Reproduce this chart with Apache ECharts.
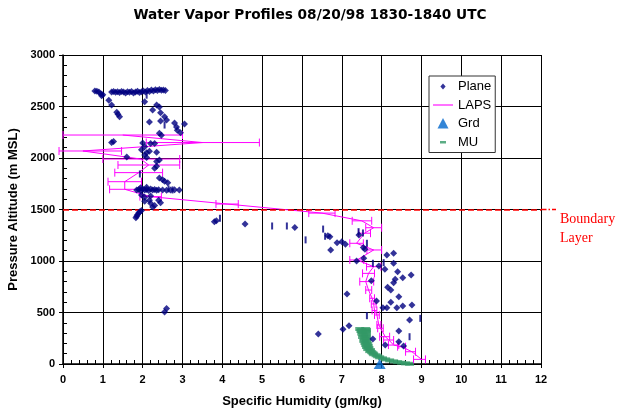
<!DOCTYPE html>
<html><head><meta charset="utf-8">
<script src="https://cdn.jsdelivr.net/npm/echarts@6/dist/echarts.min.js"></script>
<style>html,body{margin:0;padding:0;background:#fff}#c{width:620px;height:410px}</style>
</head><body><div id="c"></div>
<script>
// ---- data ----
const xTickLabels = ['0','1','2','3','4','5','6','7','8','9','10','11','12'];
const yTickLabels = ['0','500','1000','1500','2000','2500','3000'];
const boundaryLayer = 1500;

const planeDiamonds = [
 [0.80,2650],[0.85,2648],[0.90,2640],[0.95,2625],[1.00,2615],[0.97,2605],[1.15,2560],[1.22,2515],[1.35,2445],[1.38,2425],[1.42,2400],
 [1.22,2640],[1.27,2645],[1.32,2638],[1.37,2642],[1.42,2636],[1.47,2645],[1.52,2640],[1.57,2632],[1.62,2642],[1.67,2638],
 [1.72,2645],[1.77,2630],[1.82,2640],[1.87,2648],[1.92,2636],[1.97,2642],[2.02,2650],[2.07,2640],[2.12,2655],[2.17,2645],
 [2.22,2660],[2.27,2650],[2.32,2662],[2.37,2655],[2.42,2665],[2.47,2658],[2.52,2660],[2.57,2655],[2.05,2547],
 [2.35,2515],[2.42,2495],[2.25,2465],[2.45,2440],[2.55,2400],[2.6,2370],[2.8,2340],[2.17,2350],[2.45,2360],[2.85,2300],
 [3.05,2330],[2.87,2270],[2.95,2245],[2.42,2240],[2.47,2220],[1.22,2150],[1.27,2160],[2.0,2145],[2.05,2110],[2.2,2140],
 [2.3,2140],[1.97,2080],[2.1,2050],[2.17,2065],[2.35,2055],[1.6,2010],[2.05,2030],[2.1,2005],[2.35,1965],[2.42,1980],
 [2.35,1920],[2.3,1900],[2.42,1805],[2.5,1790],[2.55,1775],[2.63,1760],
 [1.85,1690],[1.9,1695],[1.95,1685],[2.0,1700],[2.05,1690],[2.1,1695],[2.15,1685],[2.2,1700],[2.25,1690],[2.3,1695],
 [2.35,1688],[2.4,1692],[2.5,1690],[2.6,1688],[2.7,1690],[2.8,1692],[2.92,1690],[1.95,1710],[2.1,1715],
 [1.97,1640],[2.05,1620],[2.2,1630],[2.17,1590],[2.2,1560],[2.4,1590],[2.45,1565],[2.3,1540],[2.25,1525],[2.05,1580],
 [1.83,1420],[1.85,1435],[1.87,1450],[1.9,1465],[1.93,1478],[1.97,1490],
 [2.55,505],[2.6,540],
 [3.8,1380],[3.85,1390],[4.57,1360],[5.82,1325],[6.65,1245],[6.7,1235],[6.72,1107],[6.88,1178],[7.0,1188],[7.09,1162],
 [7.43,1252],[7.54,1130],[7.58,1113],[7.37,1000],[7.55,1026],[8.13,1058],[8.3,1075],[7.93,951],[8.3,978],[8.08,919],
 [8.4,896],[8.74,864],[8.53,838],[7.74,809],[8.34,822],[8.3,789],[8.15,745],[8.23,718],[8.43,654],[7.13,680],
 [7.87,612],[8.23,599],[8.03,547],[8.13,547],[8.38,547],[8.53,563],[8.76,573],[8.7,427],[7.18,372],[7.03,337],
 [6.41,291],[8.43,320],[7.78,243],[8.43,217],[8.09,184],[8.55,175]
];
const planeBars = [
 [2.1,2610],[2.55,2320],[1.93,1845],[2.65,1700],[2.75,1690],
 [3.94,1415],[5.25,1340],[5.62,1340],[6.09,1205],[6.53,1310],[6.58,1240],[7.42,1285],[7.53,1272],[7.63,1172],
 [7.78,978],[8.05,984],[7.63,469],[8.97,443],[8.7,265]
];

const lapsY    = [2223,2150,2068,1990,1932,1858,1770,1696,1625,1553,1465,1390,1323,1270,1172,1107,1010,945,880,800,718,638,583,520,476,379,347,265,233,184,168,119,45];
const lapsX    = [1.5,3.5,0.5,1.95,2.15,1.9,1.55,1.55,2.2,4.12,6.5,7.5,7.8,7.57,7.37,7.8,7.38,7.8,7.67,7.6,7.67,7.76,7.8,7.82,7.88,7.93,7.97,8.09,8.18,8.3,8.5,8.76,9.0];
const lapsLow  = [0.0,2.09,-0.1,1.0,1.38,1.3,1.13,1.17,1.93,3.84,6.17,7.26,7.6,7.42,7.2,7.63,7.2,7.62,7.52,7.45,7.6,7.7,7.74,7.76,7.82,7.88,7.9,7.95,8.05,8.17,8.4,8.6,8.8];
const lapsHigh = [3.0,4.93,1.47,2.93,2.93,2.5,1.97,1.93,2.47,4.4,6.83,7.75,8.0,7.72,7.54,8.0,7.55,7.98,7.82,7.8,7.75,7.82,7.86,7.88,7.94,7.98,8.04,8.2,8.3,8.43,8.6,8.85,9.1];

const grdPoints = [[7.95,0]];
const muPoints = [
 [7.45,340],[7.6,340],[7.5,330],[7.62,330],[7.48,320],[7.6,320],[7.52,310],[7.62,305],[7.5,295],[7.6,290],
 [7.55,280],[7.62,270],[7.52,262],[7.6,255],[7.57,245],[7.63,235],[7.55,225],[7.62,215],[7.58,205],[7.65,195],
 [7.6,185],[7.66,175],[7.62,165],[7.68,155],[7.65,145],[7.72,135],[7.7,125],[7.75,115],[7.78,105],[7.8,95],
 [7.86,85],[7.9,75],[7.95,65],[8.02,55],[8.1,45],[8.2,35],[8.3,26],[8.4,18],[8.5,12],[8.6,6],[8.7,2]
];

// ---- chart ----
const lapsLine = lapsY.map((y,i)=>[lapsX[i], y]);
const lapsBars = lapsY.map((y,i)=>[lapsLow[i], lapsHigh[i], y]);
const MAG = '#FF00FF';
const chart = echarts.init(document.getElementById('c'), null, {renderer:'canvas'});
const axisLbl = {fontFamily:'Liberation Sans, Arial, sans-serif', fontWeight:'bold', fontSize:11, color:'#000'};
const nameStyle = {fontFamily:'Liberation Sans, Arial, sans-serif', fontWeight:'bold', fontSize:13, color:'#000'};
chart.setOption({
  animation:false,
  backgroundColor:'#fff',
  title:{text:'Water Vapor Profiles 08/20/98 1830-1840 UTC', left:'center', top:3,
    textStyle:{fontFamily:'DejaVu Sans, sans-serif', fontWeight:'bold', fontSize:13.7, color:'#000'}},
  grid:{left:63, top:55, width:478, height:309, show:false, outerBoundsMode:'none', containLabel:false},
  legend:{
    left:429, top:76, orient:'vertical', itemWidth:20, itemHeight:12, itemGap:5.5,
    padding:[4,4,4,4], borderColor:'#333', borderWidth:1, backgroundColor:'#fff',
    textStyle:{fontFamily:'Liberation Sans, Arial, sans-serif', fontSize:13, color:'#000'},
    selectedMode:false,
    data:[
      {name:'Plane', icon:'path://M0 0M20 12M10 3L12.6 6L10 9L7.4 6Z'},
      {name:'LAPS', icon:'path://M0 5.5L20 5.5L20 6.6L0 6.6Z'},
      {name:'Grd', icon:'path://M0 0M20 12M10 0.5L15.5 11L4.5 11Z'},
      {name:'MU', icon:'path://M0 0M20 12M7 5L13 5L13 7.5L7 7.5Z'}
    ]
  },
  xAxis:[
    {type:'value', min:0, max:12, interval:1, gridIndex:0, position:'bottom',
     name:'Specific Humidity (gm/kg)', nameLocation:'middle', nameGap:31, nameTextStyle:nameStyle,
     axisLine:{show:true, onZero:false, lineStyle:{color:'#000', width:1.5}},
     axisTick:{show:true, length:4, lineStyle:{color:'#000'}},
     axisLabel:Object.assign({margin:10, formatter:v=>xTickLabels[Math.round(v)]}, axisLbl),
     splitLine:{show:true, lineStyle:{color:'#000', width:1}}},
    {type:'value', min:0, max:12, interval:1, gridIndex:0, position:'bottom',
     axisLine:{show:false}, axisLabel:{show:false}, splitLine:{show:false},
     axisTick:{show:false, inside:true},
     minorTick:{show:true, splitNumber:5, length:4, lineStyle:{color:'#000'}}}
  ],
  yAxis:[
    {type:'value', min:0, max:3000, interval:500, gridIndex:0, position:'left',
     name:'Pressure Altitude (m MSL)', nameLocation:'middle', nameGap:36, nameTextStyle:nameStyle,
     axisLine:{show:true, onZero:false, lineStyle:{color:'#000', width:1.5}},
     axisTick:{show:true, length:4, lineStyle:{color:'#000'}},
     axisLabel:Object.assign({margin:8, formatter:v=>yTickLabels[Math.round(v/500)]}, axisLbl),
     splitLine:{show:true, lineStyle:{color:'#000', width:1}}},
    {type:'value', min:0, max:3000, interval:500, gridIndex:0, position:'left',
     axisLine:{show:false}, axisLabel:{show:false}, splitLine:{show:false},
     axisTick:{show:false, inside:true},
     minorTick:{show:true, splitNumber:5, length:4, lineStyle:{color:'#000'}}}
  ],
  series:[
    {name:'MU', type:'scatter', data:muPoints, symbol:'rect', symbolSize:[9,4],
     itemStyle:{color:'#339966'}, z:3},
    {name:'LAPS', type:'line', data:lapsLine, showSymbol:false, symbol:'none',
     lineStyle:{color:MAG, width:1}, itemStyle:{color:MAG}, z:4, clip:false},
    {name:'LAPS bars', type:'custom', data:lapsBars, encode:{x:[0,1], y:2}, z:4, clip:false,
     renderItem:function(params, api){
       const y = api.value(2);
       const p1 = api.coord([api.value(0), y]);
       const p2 = api.coord([api.value(1), y]);
       const h = 4, st = {stroke:MAG, lineWidth:1};
       return {type:'group', children:[
         {type:'line', shape:{x1:p1[0], y1:p1[1], x2:p2[0], y2:p2[1]}, style:st},
         {type:'line', shape:{x1:p1[0], y1:p1[1]-h, x2:p1[0], y2:p1[1]+h}, style:st},
         {type:'line', shape:{x1:p2[0], y1:p2[1]-h, x2:p2[0], y2:p2[1]+h}, style:st}
       ]};
     }},
    {name:'Plane', type:'scatter', data:planeDiamonds, symbol:'diamond', symbolSize:[7,7],
     itemStyle:{color:'#000080'}, z:5},
    {name:'Plane bars', type:'scatter', data:planeBars, symbol:'rect', symbolSize:[2,7],
     itemStyle:{color:'#000080'}, z:5},
    {name:'Grd', type:'scatter', data:grdPoints, symbol:'triangle', symbolSize:[12,10],
     itemStyle:{color:'#0066CC'}, z:6, clip:false,
     markLine:{silent:true, animation:false,
       symbol:['none','path://M0 0M2 30M0 0L2 0L2 4L0 4ZM0 6L2 6L2 7.5L0 7.5ZM0 9.5L2 9.5L2 15L0 15Z'],
       symbolSize:[1.5,30],
       lineStyle:{color:'#FF0000', type:[6,3], width:1.5},
       label:{show:true, position:'end', formatter:'Boundary\nLayer', color:'#FF0000',
         fontFamily:'Liberation Serif, Times New Roman, serif', fontSize:14, lineHeight:19,
         align:'left', verticalAlign:'top', distance:19},
       data:[[{coord:[0,boundaryLayer]},{coord:[12,boundaryLayer]}]]}}
  ]
});
</script>
</body></html>
